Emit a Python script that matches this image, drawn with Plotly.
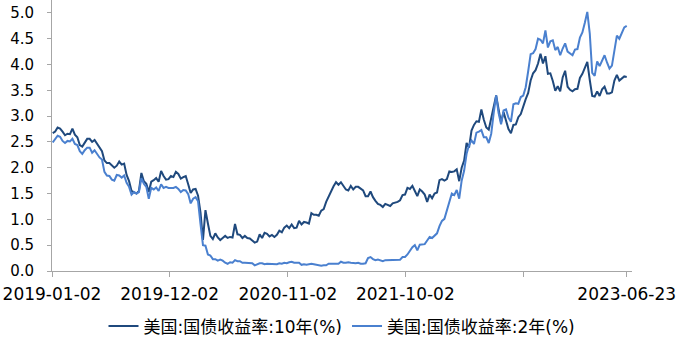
import pandas as pd
import plotly.graph_objects as go

# Weekly (Friday) readings of US Treasury yields, %
y10_2019 = [2.67, 2.70, 2.78, 2.76,
            2.70, 2.63, 2.66, 2.65,
            2.76, 2.64, 2.59, 2.44, 2.41,
            2.50, 2.56, 2.56, 2.50,
            2.54, 2.47, 2.39, 2.32, 2.14,
            2.09, 2.09, 2.05, 2.00,
            2.04, 2.12, 2.06, 2.08,
            1.86, 1.74, 1.55, 1.52, 1.50,
            1.55, 1.90, 1.74, 1.69,
            1.53, 1.73, 1.76, 1.80,
            1.73, 1.94, 1.84, 1.77, 1.78,
            1.84, 1.82, 1.92, 1.88]
y10_2020 = [1.79, 1.82, 1.84, 1.68, 1.51,
            1.58, 1.59, 1.46, 1.13,
            0.60, 1.18, 0.92, 0.68,
            0.62, 0.73, 0.65, 0.60,
            0.64, 0.68, 0.64, 0.66, 0.65,
            0.91, 0.71, 0.70, 0.64,
            0.68, 0.64, 0.63, 0.59, 0.55,
            0.57, 0.71, 0.64, 0.74,
            0.72, 0.67, 0.70, 0.66,
            0.70, 0.78, 0.75, 0.84, 0.88,
            0.83, 0.90, 0.83, 0.84,
            0.97, 0.90, 0.95, 0.94]
y10_2021 = [0.92, 1.12, 1.09, 1.09, 1.07,
            1.17, 1.20, 1.34, 1.44,
            1.56, 1.64, 1.72, 1.67,
            1.72, 1.66, 1.58, 1.56, 1.65,
            1.58, 1.63, 1.63, 1.59,
            1.56, 1.45, 1.45, 1.54,
            1.43, 1.36, 1.30, 1.28, 1.24,
            1.30, 1.28, 1.26, 1.31,
            1.32, 1.34, 1.37, 1.47,
            1.48, 1.61, 1.59, 1.65, 1.55,
            1.45, 1.58, 1.54, 1.48,
            1.34, 1.48, 1.41, 1.50, 1.52]
y10_2022 = [1.76, 1.78, 1.75, 1.78,
            1.93, 1.92, 1.93, 1.97,
            1.74, 2.00, 2.14, 2.48,
            2.39, 2.72, 2.83, 2.90, 2.89,
            3.13, 2.93, 2.78, 2.74,
            2.94, 3.15, 3.40, 3.13,
            2.88, 3.08, 2.93, 2.75, 2.67,
            2.83, 2.84, 2.98, 3.04,
            3.20, 3.33, 3.45, 3.69, 3.83,
            3.89, 4.02, 4.21, 4.02,
            4.16, 3.82, 3.83, 3.68,
            3.49, 3.58, 3.48, 3.75, 3.88]
y10_2023 = [3.57, 3.51, 3.48, 3.52,
            3.53, 3.74, 3.82, 3.95,
            4.05, 3.70, 3.39, 3.38, 3.48,
            3.39, 3.52, 3.57, 3.44,
            3.44, 3.46, 3.69, 3.80,
            3.69, 3.74, 3.77, 3.76]

y2_2019 = [2.49, 2.55, 2.62, 2.60,
           2.52, 2.48, 2.52, 2.51,
           2.56, 2.46, 2.44, 2.32, 2.27,
           2.34, 2.39, 2.39, 2.29,
           2.34, 2.27, 2.20, 2.16, 1.92,
           1.85, 1.84, 1.77, 1.75,
           1.86, 1.85, 1.81, 1.85,
           1.71, 1.63, 1.48, 1.53, 1.50,
           1.53, 1.80, 1.69, 1.63,
           1.40, 1.61, 1.58, 1.62,
           1.55, 1.68, 1.61, 1.63, 1.61,
           1.61, 1.61, 1.63, 1.59]
y2_2020 = [1.53, 1.57, 1.56, 1.49, 1.31,
           1.40, 1.43, 1.35, 0.91,
           0.50, 0.49, 0.32, 0.30,
           0.23, 0.23, 0.20, 0.22,
           0.20, 0.16, 0.14, 0.17, 0.16,
           0.21, 0.19, 0.19, 0.16,
           0.16, 0.16, 0.15, 0.15, 0.11,
           0.13, 0.15, 0.15, 0.13,
           0.14, 0.14, 0.14, 0.13,
           0.13, 0.15, 0.14, 0.16, 0.15,
           0.17, 0.18, 0.16, 0.16,
           0.16, 0.12, 0.13, 0.12]
y2_2021 = [0.13, 0.14, 0.13, 0.12, 0.11,
           0.10, 0.11, 0.11, 0.14,
           0.14, 0.15, 0.15, 0.14,
           0.18, 0.16, 0.16, 0.17, 0.16,
           0.15, 0.15, 0.16, 0.14,
           0.14, 0.15, 0.25, 0.27,
           0.23, 0.21, 0.22, 0.20, 0.19,
           0.21, 0.21, 0.22, 0.21,
           0.21, 0.21, 0.22, 0.27,
           0.27, 0.32, 0.40, 0.46, 0.50,
           0.40, 0.51, 0.51, 0.52,
           0.59, 0.66, 0.64, 0.69, 0.73]
y2_2022 = [0.87, 0.97, 1.01, 1.16,
           1.31, 1.50, 1.47, 1.57,
           1.40, 1.75, 1.94, 2.27,
           2.44, 2.53, 2.46, 2.68, 2.70,
           2.73, 2.59, 2.59, 2.48,
           2.66, 3.06, 3.40, 3.06,
           2.84, 3.11, 3.13, 2.97, 2.89,
           3.23, 3.25, 3.24, 3.37,
           3.40, 3.56, 3.87, 4.20, 4.22,
           4.30, 4.50, 4.48, 4.41,
           4.66, 4.33, 4.45, 4.47,
           4.28, 4.34, 4.18, 4.31, 4.41]
y2_2023 = [4.25, 4.22, 4.18, 4.29,
           4.30, 4.52, 4.62, 4.81,
           5.02, 4.60, 3.84, 3.78, 4.06,
           3.97, 4.09, 4.18, 4.04,
           3.92, 3.98, 4.28, 4.56,
           4.50, 4.61, 4.72, 4.75]

years = [2019, 2020, 2021, 2022, 2023]
y10_years = [y10_2019, y10_2020, y10_2021, y10_2022, y10_2023]
y2_years = [y2_2019, y2_2020, y2_2021, y2_2022, y2_2023]

tick_vals = ["2019-01-02", "2019-12-02", "2020-11-02", "2021-10-02", "2022-09-02", "2023-06-23"]
tick_text = ["2019-01-02", "2019-12-02", "2020-11-02", "2021-10-02", "", "2023-06-23"]

name10 = "美国:国债收益率:10年(%)"
name2 = "美国:国债收益率:2年(%)"

dates, y10, y2 = [], [], []
for yr, a, b in zip(years, y10_years, y2_years):
    fr = pd.date_range(f"{yr}-01-01", f"{yr}-12-31", freq="W-FRI")
    n = min(len(a), len(b), len(fr))
    dates += list(fr[:n])
    y10 += a[:n]
    y2 += b[:n]

FONT = "DejaVu Sans, Noto Sans CJK SC, sans-serif"

fig = go.Figure()
fig.add_trace(go.Scatter(x=dates, y=y10, mode="lines", name=name10,
                         line=dict(color="#1F497D", width=2)))
fig.add_trace(go.Scatter(x=dates, y=y2, mode="lines", name=name2,
                         line=dict(color="#4A80CF", width=2)))

fig.update_layout(
    width=679, height=338,
    margin=dict(l=52, r=47, t=0, b=67, autoexpand=False),
    paper_bgcolor="white", plot_bgcolor="white",
    font=dict(family=FONT, size=15, color="#000000"),
    showlegend=True,
    legend=dict(orientation="h", x=0.5, xanchor="center", y=-0.205, yanchor="middle",
                font=dict(size=17, family=FONT), itemwidth=30, tracegroupgap=0),
)
fig.update_xaxes(
    type="date", range=["2019-01-02", "2023-07-08"],
    tickvals=tick_vals, ticktext=tick_text, automargin=False,
    showgrid=False, zeroline=False,
    showline=True, linecolor="#A6A6A6", linewidth=1,
    ticks="outside", ticklen=5, tickcolor="#A6A6A6",
    tickfont=dict(size=17, family=FONT), ticklabelstandoff=3,
)
fig.update_yaxes(
    range=[0, 5.25], tickvals=[0, 0.5, 1, 1.5, 2, 2.5, 3, 3.5, 4, 4.5, 5],
    tickformat=".1f", showgrid=False, zeroline=False, automargin=False,
    showline=True, linecolor="#A6A6A6", linewidth=1,
    ticks="outside", ticklen=4, tickcolor="#A6A6A6",
    tickfont=dict(size=15, family=FONT), ticklabelstandoff=10,
)

fig.write_html("out.html")
